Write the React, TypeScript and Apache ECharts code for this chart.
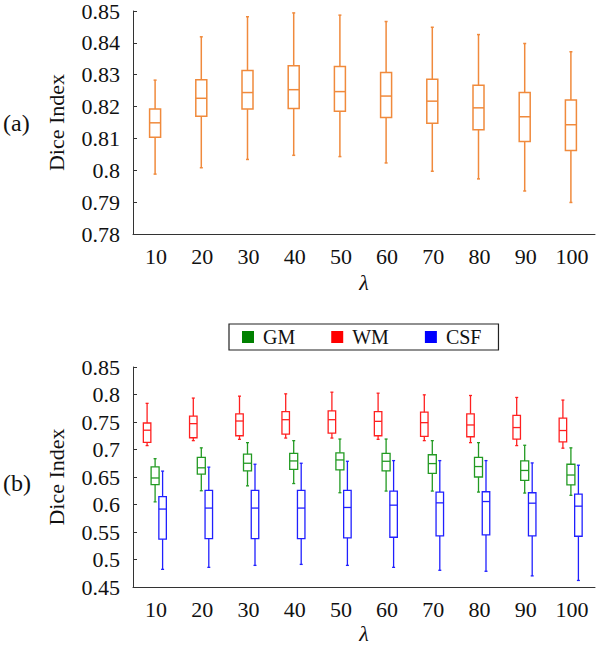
import React, { useEffect, useRef } from "react";
import * as echarts from "echarts";

const lambdas = ["10", "20", "30", "40", "50", "60", "70", "80", "90", "100"];

// [min, Q1, median, Q3, max] for each lambda
const totalBoxes = [
  [0.7988, 0.8104, 0.8149, 0.8192, 0.8283],
  [0.8008, 0.817, 0.8226, 0.8284, 0.8419],
  [0.8034, 0.8192, 0.8244, 0.8313, 0.8482],
  [0.8047, 0.8194, 0.8253, 0.8328, 0.8494],
  [0.8043, 0.8185, 0.8247, 0.8326, 0.8487],
  [0.8023, 0.8166, 0.8233, 0.8307, 0.8467],
  [0.7997, 0.8148, 0.8217, 0.8286, 0.8449],
  [0.7973, 0.8127, 0.8196, 0.8267, 0.8426],
  [0.7935, 0.809, 0.8168, 0.8244, 0.8398],
  [0.7899, 0.8062, 0.8143, 0.8221, 0.8372],
];

const wmBoxes = [
  [0.7071, 0.7131, 0.7351, 0.7482, 0.7839],
  [0.7161, 0.7214, 0.747, 0.7607, 0.7935],
  [0.7185, 0.725, 0.7518, 0.7649, 0.797],
  [0.7208, 0.728, 0.7542, 0.769, 0.8012],
  [0.7208, 0.7298, 0.7542, 0.7702, 0.8042],
  [0.7185, 0.725, 0.7512, 0.769, 0.8024],
  [0.7161, 0.7238, 0.7488, 0.7679, 0.7994],
  [0.7125, 0.7232, 0.7446, 0.7649, 0.7982],
  [0.7071, 0.719, 0.7399, 0.7619, 0.7946],
  [0.7024, 0.7137, 0.7345, 0.7571, 0.7899],
];

const gmBoxes = [
  [0.6048, 0.6363, 0.6482, 0.6685, 0.6833],
  [0.625, 0.6554, 0.6667, 0.6857, 0.703],
  [0.6339, 0.6613, 0.675, 0.6917, 0.7125],
  [0.6381, 0.6637, 0.6792, 0.6929, 0.7161],
  [0.6214, 0.6631, 0.681, 0.694, 0.719],
  [0.6244, 0.6613, 0.6786, 0.6929, 0.719],
  [0.6244, 0.6565, 0.6744, 0.6905, 0.7161],
  [0.6226, 0.65, 0.669, 0.6857, 0.7125],
  [0.6208, 0.644, 0.6619, 0.6792, 0.7077],
  [0.6167, 0.6357, 0.6536, 0.6732, 0.703],
];

const csfBoxes = [
  [0.4821, 0.5369, 0.5917, 0.6143, 0.6607],
  [0.4857, 0.5381, 0.5935, 0.6256, 0.6679],
  [0.4893, 0.5381, 0.5935, 0.6256, 0.6732],
  [0.4911, 0.5381, 0.5935, 0.6256, 0.675],
  [0.4893, 0.5393, 0.5946, 0.6256, 0.6786],
  [0.4857, 0.5405, 0.5988, 0.6244, 0.6798],
  [0.4804, 0.5429, 0.603, 0.6226, 0.6798],
  [0.4786, 0.5446, 0.6054, 0.6232, 0.6798],
  [0.4702, 0.5429, 0.6024, 0.6214, 0.6756],
  [0.4619, 0.5423, 0.597, 0.619, 0.6714],
];

const topTicks = { min: 0.78, max: 0.85, interval: 0.01 };
const bottomTicks = { min: 0.45, max: 0.85, interval: 0.05 };

const FONT = "Liberation Serif";
const TXT = "#111";

function makeRender(color: string, offset: number, boxW: number, lw: number) {
  return (params: any, api: any) => {
    const i = api.value(0);
    const lo = api.coord([i, api.value(1)]);
    const q1 = api.coord([i, api.value(2)]);
    const md = api.coord([i, api.value(3)]);
    const q3 = api.coord([i, api.value(4)]);
    const hi = api.coord([i, api.value(5)]);
    const x = lo[0] + offset;
    const h = boxW / 2;
    const style = { stroke: color, lineWidth: lw, fill: "none" };
    return {
      type: "group",
      children: [
        { type: "line", shape: { x1: x, y1: hi[1], x2: x, y2: q3[1] }, style },
        { type: "line", shape: { x1: x, y1: q1[1], x2: x, y2: lo[1] }, style },
        { type: "line", shape: { x1: x - 1.5, y1: hi[1], x2: x + 1.5, y2: hi[1] }, style },
        { type: "line", shape: { x1: x - 1.5, y1: lo[1], x2: x + 1.5, y2: lo[1] }, style },
        { type: "rect", shape: { x: x - h, y: q3[1], width: boxW, height: q1[1] - q3[1] }, style },
        { type: "line", shape: { x1: x - h, y1: md[1], x2: x + h, y2: md[1] }, style },
      ],
    };
  };
}

function toData(boxes: number[][]) {
  return boxes.map((b, i) => [i, ...b]);
}

function xAxisCfg(gridIndex: number, nameGap: number) {
  return {
    type: "category",
    gridIndex,
    data: lambdas,
    boundaryGap: true,
    name: "λ",
    nameLocation: "middle",
    nameGap,
    nameTextStyle: { fontFamily: FONT, fontSize: 22, fontStyle: "italic", color: TXT },
    axisLine: { lineStyle: { color: "#333", width: 1 } },
    axisTick: { inside: true, length: 4, lineStyle: { color: "#333" } },
    axisLabel: { fontFamily: FONT, fontSize: 22, color: TXT, margin: 11 },
    splitLine: { show: false },
  };
}

function yAxisCfg(gridIndex: number, t: { min: number; max: number; interval: number }) {
  return {
    type: "value",
    gridIndex,
    min: t.min,
    max: t.max,
    interval: t.interval,
    name: "Dice Index",
    nameLocation: "middle",
    nameRotate: 90,
    nameGap: 66,
    nameTextStyle: { fontFamily: FONT, fontSize: 22, color: TXT },
    axisLine: { show: true, lineStyle: { color: "#333", width: 1 } },
    axisTick: { show: true, inside: true, length: 4, lineStyle: { color: "#333" } },
    axisLabel: { fontFamily: FONT, fontSize: 22, color: TXT, margin: 13 },
    splitLine: { show: false },
  };
}

export default function App() {
  const ref = useRef<HTMLDivElement>(null);
  useEffect(() => {
    if (!ref.current) return;
    const chart = echarts.init(ref.current, undefined, { renderer: "svg" });
    const enc = { x: 0, y: [1, 2, 3, 4, 5] };
    chart.setOption({
      animation: false,
      backgroundColor: "#fff",
      grid: [
        { left: 133, top: 10, width: 462, height: 224 },
        { left: 133, top: 367, width: 462, height: 224 },
      ],
      xAxis: [xAxisCfg(0, 37), xAxisCfg(1, 35)],
      yAxis: [yAxisCfg(0, topTicks), yAxisCfg(1, bottomTicks)],
      legend: {
        left: 229,
        top: 324,
        orient: "horizontal",
        borderColor: "#222",
        borderWidth: 1.2,
        padding: [3, 17, 3, 13],
        itemGap: 36,
        itemWidth: 12,
        itemHeight: 12,
        textStyle: { fontFamily: FONT, fontSize: 20, color: TXT, padding: [0, 0, 0, 4] },
        data: [
          { name: "GM", icon: "rect", itemStyle: { color: "#008000" } },
          { name: "WM", icon: "rect", itemStyle: { color: "#ff0000" } },
          { name: "CSF", icon: "rect", itemStyle: { color: "#0000ff" } },
        ],
      },
      graphic: [
        { type: "text", left: 3, top: 111, style: { text: "(a)", fontFamily: FONT, fontSize: 24, fill: TXT } },
        { type: "text", left: 3, top: 471, style: { text: "(b)", fontFamily: FONT, fontSize: 24, fill: TXT } },
      ],
      series: [
        {
          type: "custom",
          name: "Total",
          xAxisIndex: 0,
          yAxisIndex: 0,
          itemStyle: { color: "#f08a3c" },
          encode: enc,
          data: toData(totalBoxes),
          renderItem: makeRender("#f08a3c", -1, 11, 1.5),
        },
        {
          type: "custom",
          name: "GM",
          xAxisIndex: 1,
          yAxisIndex: 1,
          itemStyle: { color: "#008000" },
          encode: enc,
          data: toData(gmBoxes),
          renderItem: makeRender("#229a22", -1, 8, 1.3),
        },
        {
          type: "custom",
          name: "WM",
          xAxisIndex: 1,
          yAxisIndex: 1,
          itemStyle: { color: "#ff0000" },
          encode: enc,
          data: toData(wmBoxes),
          renderItem: makeRender("#ff2020", -9, 7.5, 1.3),
        },
        {
          type: "custom",
          name: "CSF",
          xAxisIndex: 1,
          yAxisIndex: 1,
          itemStyle: { color: "#0000ff" },
          encode: enc,
          data: toData(csfBoxes),
          renderItem: makeRender("#2020ff", 6.5, 7.5, 1.3),
        },
      ],
    });
    return () => chart.dispose();
  }, []);
  return (
    <div
      ref={ref}
      style={{ position: "absolute", left: 0, top: 0, width: 600, height: 645 }}
    />
  );
}
